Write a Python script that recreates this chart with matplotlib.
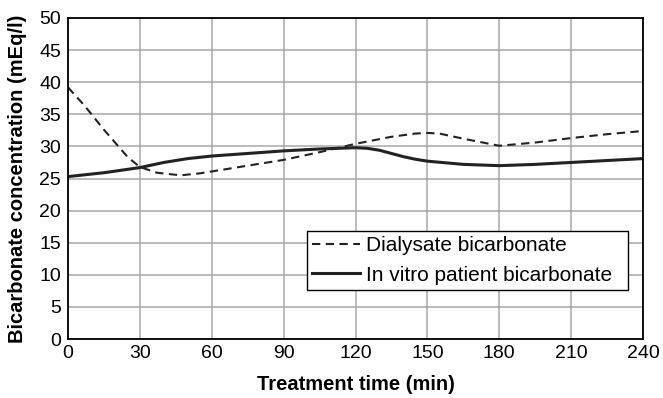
import matplotlib
matplotlib.use("Agg")
import matplotlib.pyplot as plt

time_dialysate = [0, 7, 15, 25, 30, 37, 47, 55, 60, 75, 90, 105, 120, 135, 145, 150, 155, 165, 180, 195, 210, 225, 240]
dialysate = [39.2, 36.3, 32.6, 28.3, 26.8, 25.9, 25.5, 25.8, 26.1, 27.0, 27.9, 29.1, 30.4, 31.5, 32.0, 32.1, 32.0, 31.2, 30.1, 30.6, 31.3, 31.9, 32.4]

time_patient = [0, 15, 30, 40, 50, 60, 75, 90, 105, 120, 125, 130, 135, 140, 145, 150, 165, 180, 195, 210, 225, 240]
patient = [25.3, 25.9, 26.7, 27.5, 28.1, 28.5, 28.9, 29.3, 29.6, 29.8, 29.7, 29.4, 28.9, 28.4, 28.0, 27.7, 27.2, 27.0, 27.2, 27.5, 27.8, 28.1]

xticks = [0, 30, 60, 90, 120, 150, 180, 210, 240]
yticks = [0, 5, 10, 15, 20, 25, 30, 35, 40, 45, 50]

plt.rcParams['font.family'] = ['Liberation Sans', 'DejaVu Sans']

fig = plt.figure(figsize=(6.63, 3.98), dpi=100)
ax = fig.add_axes([68/663, 1 - 339/398, 575/663, 321/398])

ax.plot(time_dialysate, dialysate, color='#222222', lw=1.5, ls=(0, (4, 2.6)), label='Dialysate bicarbonate')
ax.plot(time_patient, patient, color='#222222', lw=2.2, label='In vitro patient bicarbonate')

ax.set_xlim(0, 240)
ax.set_ylim(0, 50)
ax.set_xticks(xticks)
ax.set_yticks(yticks)
ax.tick_params(length=0, labelsize=14, pad=4)
ax.tick_params(axis='y', pad=5)
ax.grid(True, color='#a8a8a8', lw=1.1)
ax.set_axisbelow(True)
for s in ax.spines.values():
    s.set_color('black')
    s.set_linewidth(1.3)

ax.set_xlabel('Treatment time (min)', fontsize=14.5, fontweight='bold', labelpad=10)
ax.set_ylabel('Bicarbonate concentration (mEq/l)', fontsize=14.5, fontweight='bold', labelpad=9)

leg = ax.legend(loc='lower left', bbox_to_anchor=((307 - 68) / 575, (339 - 290) / 321, (628 - 307) / 575, 0.1),
                mode='expand', fontsize=15, frameon=True, fancybox=False, edgecolor='black',
                framealpha=1, borderpad=0.25, handlelength=2.3, handletextpad=0.3, labelspacing=0.5,
                borderaxespad=0)
leg.get_frame().set_linewidth(1.0)

fig.savefig('out.png', dpi=100)
